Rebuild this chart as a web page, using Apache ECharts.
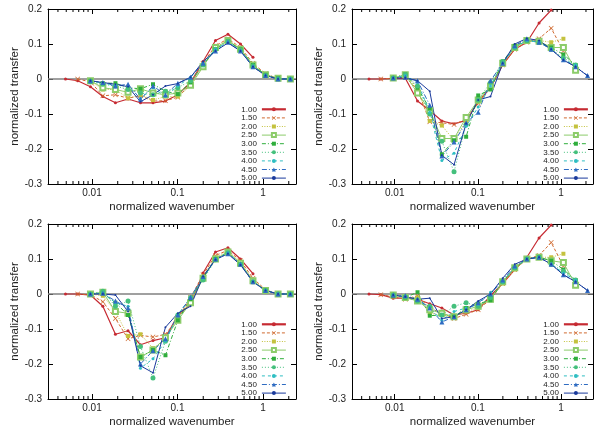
<!DOCTYPE html>
<html><head><meta charset="utf-8">
<script src="https://cdn.jsdelivr.net/npm/echarts@6/dist/echarts.min.js"></script>
<style>html,body{margin:0;padding:0;background:#fff}#c{width:596px;height:430px}</style>
</head><body><div id="c"></div><script>
// normalized wavenumber sample positions (shared by all panels)
const wavenumbers = [0.0049, 0.0068, 0.0096, 0.0134, 0.0188, 0.0264, 0.0369, 0.0517, 0.0723, 0.101, 0.142, 0.199, 0.278, 0.389, 0.545, 0.763, 1.07, 1.5, 2.09];
const seriesNames = ['1.00', '1.50', '2.00', '2.50', '3.00', '3.50', '4.00', '4.50', '5.00'];
const xTickLabels = ['0.01', '0.1', '1'];
const minorTickValues = [0.004, 0.005, 0.006, 0.007, 0.008, 0.009, 0.02, 0.03, 0.04, 0.05, 0.06, 0.07, 0.08, 0.09, 0.2, 0.3, 0.4, 0.5, 0.6, 0.7, 0.8, 0.9, 2];
const n = null;
// top-left panel, one row per series (1.00 ... 5.00)
const transferTopLeft = [
  [0, -0.005, -0.022, -0.05, -0.068, -0.057, -0.068, -0.068, -0.063, -0.045, -0.01, 0.05, 0.11, 0.128, 0.1, 0.062, n, n, n],
  [n, 0, -0.008, -0.048, -0.045, -0.055, -0.048, -0.063, -0.062, -0.052, -0.015, 0.045, 0.095, 0.115, 0.09, 0.045, 0.015, 0.001, 0],
  [n, n, -0.005, -0.03, -0.03, -0.055, -0.045, -0.06, -0.05, -0.05, -0.02, 0.035, 0.09, 0.112, 0.085, 0.04, 0.012, 0.001, 0],
  [n, n, -0.005, -0.025, -0.03, -0.038, -0.028, -0.04, -0.045, -0.04, -0.018, 0.035, 0.09, 0.11, 0.085, 0.04, 0.012, 0.002, 0],
  [n, n, -0.005, -0.012, -0.012, -0.025, -0.028, -0.015, -0.035, -0.043, -0.01, 0.04, 0.085, 0.108, 0.085, 0.04, 0.012, 0.002, 0],
  [n, n, -0.008, -0.015, -0.02, -0.03, -0.04, -0.045, -0.035, -0.025, -0.005, 0.04, 0.085, 0.108, 0.082, 0.038, 0.01, 0.001, 0],
  [n, n, -0.005, -0.012, -0.018, -0.02, -0.055, -0.025, -0.05, -0.02, 0.005, 0.045, 0.085, 0.106, 0.08, 0.036, 0.01, 0, 0],
  [n, n, -0.005, -0.01, -0.02, -0.015, -0.058, -0.02, -0.045, -0.012, 0.005, 0.045, 0.08, 0.105, 0.08, 0.035, 0.01, 0, 0],
  [n, n, -0.005, -0.01, -0.015, -0.022, -0.065, -0.045, -0.02, -0.013, 0.005, 0.05, 0.08, 0.103, 0.08, 0.035, 0.01, 0, 0]
];
// top-right panel
const transferTopRight = [
  [0, 0, 0.002, 0.002, -0.063, -0.09, -0.12, -0.128, -0.118, -0.065, -0.025, 0.04, 0.085, 0.105, 0.16, 0.197, n, n, n],
  [n, 0, 0.002, 0.005, -0.03, -0.122, -0.125, -0.13, -0.115, -0.07, -0.02, 0.04, 0.085, 0.105, 0.115, 0.145, 0.08, n, n],
  [n, n, 0.003, 0.01, -0.03, -0.12, -0.133, -0.175, -0.12, -0.065, -0.025, 0.045, 0.09, 0.108, 0.11, 0.105, 0.115, n, n],
  [n, n, 0.003, 0.012, -0.04, -0.09, -0.17, -0.17, -0.11, -0.06, -0.02, 0.045, 0.09, 0.11, 0.108, 0.09, 0.09, 0.025, n],
  [n, n, 0.003, 0.013, -0.025, -0.085, -0.215, -0.175, -0.165, -0.047, -0.03, 0.05, 0.095, 0.11, 0.105, 0.09, 0.07, 0.04, n],
  [n, n, 0.003, 0.013, -0.02, -0.1, -0.178, -0.265, -0.13, -0.06, -0.01, 0.05, 0.09, 0.11, 0.105, 0.085, 0.06, 0.04, n],
  [n, n, 0.003, 0.01, -0.01, -0.095, -0.233, -0.212, -0.135, -0.08, -0.02, 0.045, 0.09, 0.11, 0.105, 0.085, 0.055, 0.04, n],
  [n, n, 0.003, 0.005, -0.005, -0.075, -0.22, -0.18, -0.125, -0.095, -0.005, 0.045, 0.095, 0.115, 0.105, 0.085, 0.055, 0.035, 0.01],
  [n, n, 0.003, 0.003, -0.005, -0.035, -0.218, -0.245, -0.127, -0.06, -0.05, 0.045, 0.1, 0.116, 0.11, 0.085, 0.054, 0.035, 0.009]
];
// bottom-left panel
const transferBottomLeft = [
  [0, 0, -0.003, -0.035, -0.115, -0.105, -0.145, -0.133, -0.125, -0.06, -0.03, 0.06, 0.12, 0.132, 0.1, 0.058, n, n, n],
  [n, 0, -0.002, -0.022, -0.07, -0.128, -0.118, -0.123, -0.115, -0.07, -0.01, 0.055, 0.11, 0.125, 0.095, 0.045, 0.012, 0, 0],
  [n, n, 0, -0.005, -0.05, -0.12, -0.115, -0.155, -0.13, -0.065, -0.02, 0.05, 0.105, 0.122, 0.09, 0.04, 0.01, 0, 0],
  [n, n, 0, 0.005, -0.05, -0.055, -0.18, -0.16, -0.125, -0.075, -0.025, 0.045, 0.1, 0.12, 0.088, 0.038, 0.01, 0, 0],
  [n, n, 0, 0.003, -0.025, -0.06, -0.18, -0.16, -0.175, -0.075, -0.015, 0.045, 0.1, 0.118, 0.085, 0.035, 0.01, 0, 0],
  [n, n, 0, 0.008, -0.035, -0.02, -0.15, -0.24, -0.135, -0.06, -0.01, 0.04, 0.098, 0.118, 0.085, 0.035, 0.01, 0, 0],
  [n, n, 0, 0.003, -0.025, -0.035, -0.212, -0.185, -0.135, -0.06, -0.01, 0.045, 0.1, 0.118, 0.085, 0.035, 0.01, 0, 0],
  [n, n, 0, 0.002, -0.02, -0.04, -0.2, -0.162, -0.128, -0.06, -0.01, 0.05, 0.1, 0.115, 0.085, 0.035, 0.01, 0, 0],
  [n, n, 0, 0, -0.003, -0.05, -0.205, -0.225, -0.095, -0.055, -0.035, 0.05, 0.098, 0.115, 0.083, 0.035, 0.01, 0, 0]
];
// bottom-right panel
const transferBottomRight = [
  [0, -0.002, -0.012, -0.012, -0.015, -0.028, -0.04, -0.06, -0.055, -0.045, -0.005, 0.03, 0.07, 0.105, 0.16, 0.197, n, n, n],
  [n, -0.002, -0.008, -0.015, -0.005, -0.04, -0.055, -0.07, -0.058, -0.045, -0.015, 0.03, 0.07, 0.1, 0.11, 0.147, 0.08, n, n],
  [n, n, -0.003, -0.01, -0.01, -0.055, -0.06, -0.065, -0.05, -0.04, -0.015, 0.03, 0.07, 0.1, 0.105, 0.105, 0.115, n, n],
  [n, n, -0.003, -0.01, -0.02, -0.045, -0.055, -0.065, -0.045, -0.035, -0.015, 0.035, 0.075, 0.1, 0.105, 0.095, 0.09, 0.025, n],
  [n, n, -0.005, -0.01, 0.005, -0.062, -0.06, -0.065, -0.04, -0.028, -0.018, 0.035, 0.075, 0.1, 0.105, 0.095, 0.07, 0.04, n],
  [n, n, -0.003, -0.008, -0.02, -0.035, -0.06, -0.035, -0.025, -0.035, -0.01, 0.035, 0.075, 0.1, 0.105, 0.085, 0.065, 0.04, n],
  [n, n, -0.003, -0.008, -0.015, -0.04, -0.075, -0.05, -0.04, -0.03, 0.005, 0.035, 0.075, 0.1, 0.105, 0.085, 0.06, 0.04, n],
  [n, n, -0.003, -0.005, -0.015, -0.04, -0.08, -0.065, -0.045, -0.025, 0, 0.04, 0.08, 0.1, 0.105, 0.085, 0.055, 0.035, 0.01],
  [n, n, -0.003, -0.008, -0.015, -0.012, -0.07, -0.065, -0.045, -0.02, 0, 0.045, 0.085, 0.1, 0.105, 0.085, 0.055, 0.035, 0.01]
];

const panels = [transferTopLeft, transferTopRight, transferBottomLeft, transferBottomRight];
const grids = [
  {left: 48, top: 9, width: 248, height: 175},
  {left: 352, top: 9, width: 248, height: 175},
  {left: 48, top: 224, width: 248, height: 175},
  {left: 352, top: 224, width: 248, height: 175}
];
const legendPos = [{right: 309, top: 105}, {right: 7, top: 105}, {right: 309, top: 320}, {right: 7, top: 320}];
const X_MIN = 0.00306, X_MAX = 2.43, Y_MIN = -0.3, Y_MAX = 0.2;
const FONT = 'Liberation Sans, Arial, sans-serif';
const colors = ['#c62a32', '#d06a30', '#c4c23e', '#8ccc6a', '#2fae3c', '#44c07c', '#2ebec2', '#2f6cc2', '#1a3a9c'];
const dashes = ['solid', [3, 2], [1, 1.5], 'solid', [4, 2, 1, 2], [1, 2], [3, 3], [5, 2, 1, 2], 'solid'];
const symbols = ['circle', 'path://M0,1L1,0L5,4L9,0L10,1L6,5L10,9L9,10L5,6L1,10L0,9L4,5Z', 'rect', 'emptyRect', 'rect', 'circle', 'circle', 'triangle', 'circle'];
const symbolSizes = [3, 5, 4, 5, 4, 5, 3, 5, 2];

const xAxes = [], yAxes = [], series = [], legends = [];
const isDecade = v => Math.abs(Math.log10(v) - Math.round(Math.log10(v))) < 1e-6;
grids.forEach((g, i) => {
  const base = {
    type: 'log', logBase: 10, min: X_MIN, max: X_MAX, gridIndex: i,
    axisLine: {show: true, onZero: false, lineStyle: {color: '#000', width: 1}},
    splitLine: {show: false}
  };
  xAxes.push(Object.assign({}, base, {
    position: 'bottom',
    axisTick: {show: true, inside: true, length: 5, lineStyle: {color: '#000'}},
    axisLabel: {
      margin: 4, fontSize: 10, color: '#222', fontFamily: FONT,
      formatter: v => {
        if (!isDecade(v)) return '';
        const e = Math.round(Math.log10(v));
        return xTickLabels.find(t => Math.round(Math.log10(parseFloat(t))) === e) || '';
      }
    },
    name: 'normalized wavenumber', nameLocation: 'middle', nameGap: 17,
    nameTextStyle: {fontSize: 11.5, color: '#222', fontFamily: FONT}
  }));
  xAxes.push(Object.assign({}, base, {
    position: 'top',
    axisTick: {show: true, inside: true, length: 5, lineStyle: {color: '#000'}},
    axisLabel: {show: false}
  }));
  const ybase = {
    type: 'value', min: Y_MIN, max: Y_MAX, interval: 0.1, gridIndex: i,
    axisLine: {show: true, onZero: false, lineStyle: {color: '#000', width: 1}},
    axisTick: {show: true, inside: true, length: 5, lineStyle: {color: '#000'}},
    splitLine: {show: false}
  };
  yAxes.push(Object.assign({}, ybase, {
    position: 'left',
    axisLabel: {
      margin: 6, fontSize: 10, color: '#222', fontFamily: FONT,
      formatter: v => Math.abs(v) < 1e-9 ? '0' : String(+v.toFixed(1))
    },
    name: 'normalized transfer', nameLocation: 'middle', nameGap: 26, nameRotate: 90,
    nameTextStyle: {fontSize: 11.5, color: '#222', fontFamily: FONT}
  }));
  yAxes.push(Object.assign({}, ybase, {position: 'right', axisLabel: {show: false}}));

  // zero reference line
  series.push({
    type: 'line', xAxisIndex: i * 2, yAxisIndex: i * 2, silent: true, z: 1,
    data: [[X_MIN, 0], [X_MAX, 0]], showSymbol: false, symbol: 'none',
    lineStyle: {color: '#808080', width: 1.6}
  });
  // minor log ticks (bottom and top)
  series.push({
    type: 'custom', xAxisIndex: i * 2, yAxisIndex: i * 2, silent: true, z: 1, clip: false,
    data: minorTickValues.map(v => [v, 0]),
    renderItem: (params, api) => {
      const x = api.value(0);
      const b = api.coord([x, Y_MIN]);
      const t = api.coord([x, Y_MAX]);
      const st = {stroke: '#000', lineWidth: 1};
      return {type: 'group', children: [
        {type: 'line', shape: {x1: b[0], y1: b[1], x2: b[0], y2: b[1] - 3}, style: st},
        {type: 'line', shape: {x1: t[0], y1: t[1], x2: t[0], y2: t[1] + 3}, style: st}
      ]};
    }
  });
  panels[i].forEach((vals, s) => {
    const data = [];
    vals.forEach((v, k) => { if (v !== null) data.push([wavenumbers[k], v]); });
    series.push({
      type: 'line', name: seriesNames[s], xAxisIndex: i * 2, yAxisIndex: i * 2, z: 2,
      data: data, symbol: symbols[s], symbolSize: symbolSizes[s], showSymbol: true,
      color: colors[s],
      itemStyle: {color: colors[s], borderWidth: 0},
      lineStyle: {color: colors[s], width: s === 0 ? 1.2 : 1, type: dashes[s]},
      emphasis: {disabled: true}, animation: false
    });
  });
  legends.push({
    data: seriesNames.map((nm, s) => ({name: nm, lineStyle: {width: s === 0 ? 2.2 : 1}})),
    orient: 'vertical', align: 'right', selectedMode: false,
    right: legendPos[i].right, top: legendPos[i].top,
    itemWidth: 24, itemHeight: 5, itemGap: 0, padding: 0,
    textStyle: {fontSize: 8, lineHeight: 8.6, color: '#222', fontFamily: FONT}
  });
});

const chart = echarts.init(document.getElementById('c'), null, {renderer: 'canvas'});
chart.setOption({
  animation: false,
  backgroundColor: '#fff',
  grid: grids.map(g => Object.assign({containLabel: false}, g)),
  xAxis: xAxes, yAxis: yAxes, legend: legends, series: series
});
</script></body></html>
